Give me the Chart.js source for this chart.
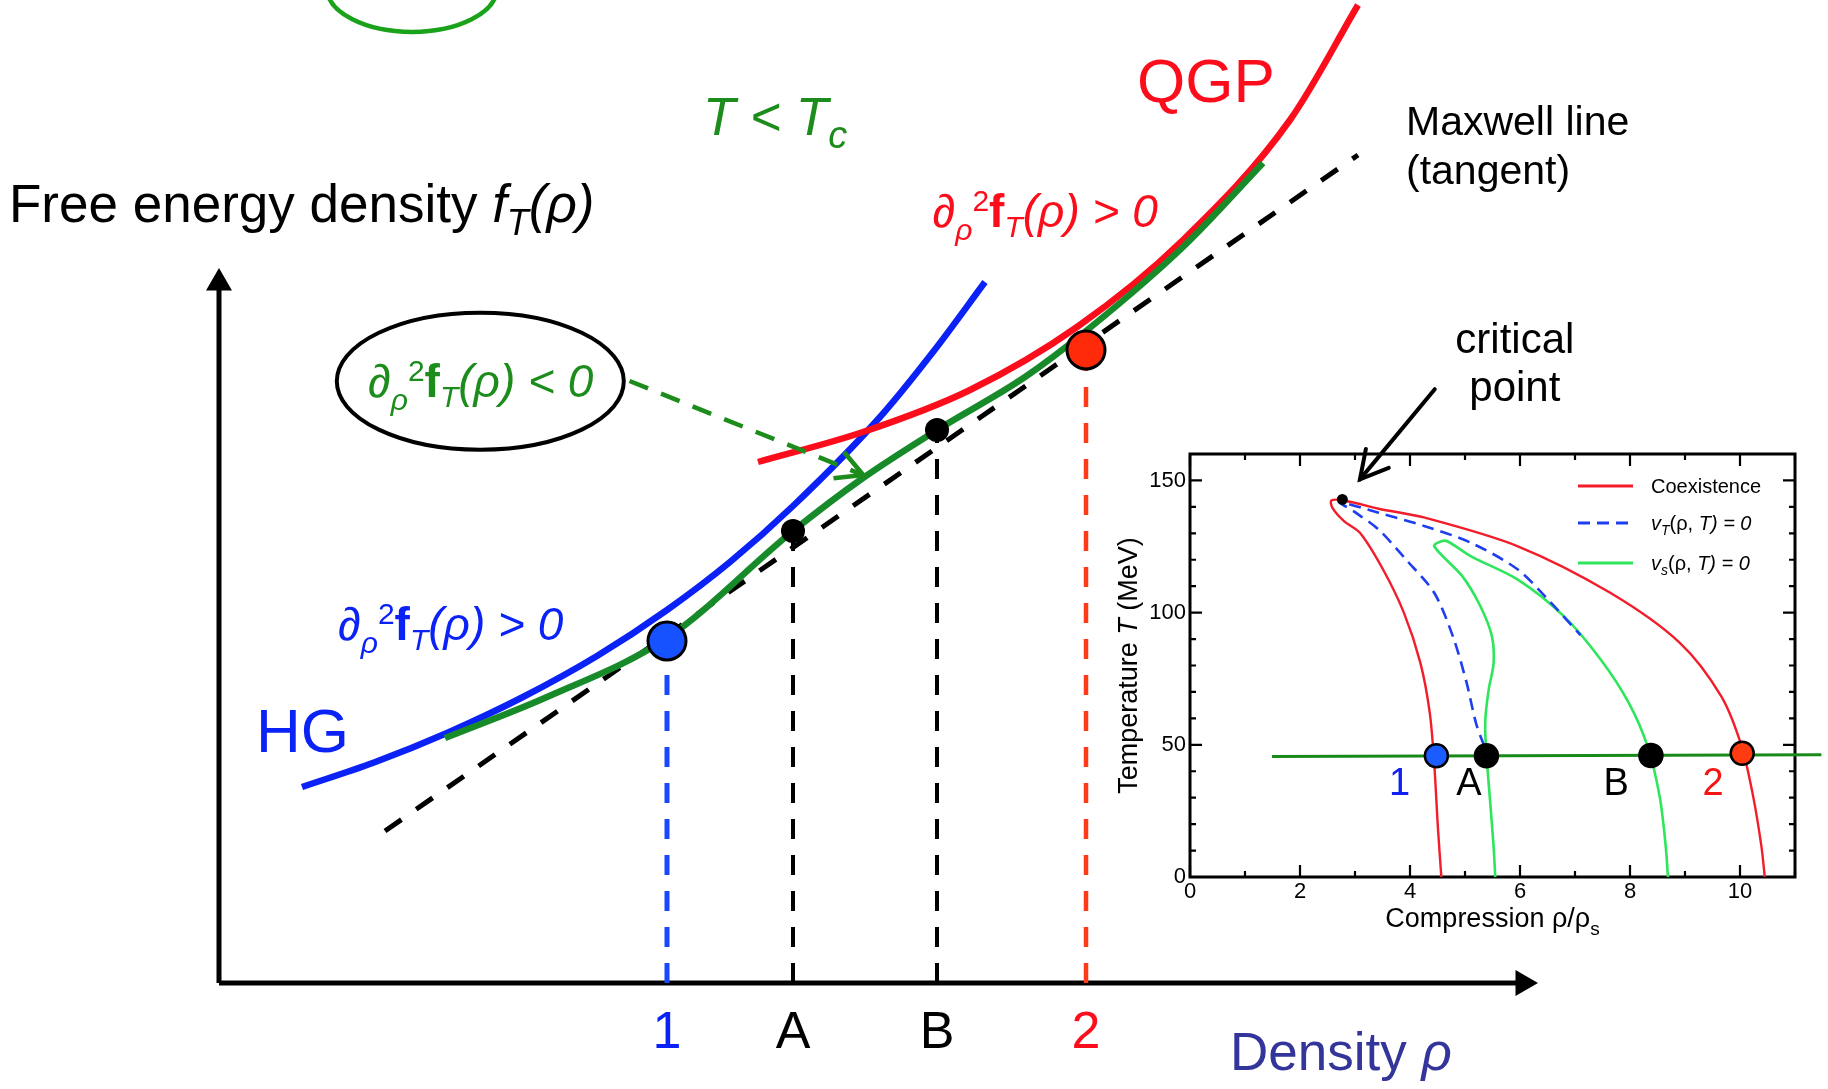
<!DOCTYPE html>
<html>
<head>
<meta charset="utf-8">
<title>Free energy density and phase coexistence</title>
<script src="https://cdn.jsdelivr.net/npm/chart.js@4.4.1/dist/chart.umd.min.js"></script>
<style>
  html, body { margin: 0; padding: 0; background: #fff; }
  #wrap { position: relative; width: 1828px; height: 1089px; overflow: hidden; background: #fff; }
  #main { position: absolute; left: 0; top: 0; }
  #inset { position: absolute; left: 1100px; top: 300px; }
</style>
</head>
<body>
<div id="wrap">
  <canvas id="main" width="1828" height="1089"></canvas>
  <canvas id="inset" width="728" height="660"></canvas>
</div>
<script>
const FONT = '"Liberation Sans", Arial, Helvetica, sans-serif';

// ---------- main sketch: free energy density vs density (arbitrary units) ----------
const axisDensity = [0, 13.04];
const axisEnergy  = [0, 7.00];

// hadron gas branch (HG)
const hgDensity = [0.83, 1.55, 2.28, 3.03, 3.78, 4.48, 5.11, 5.74, 6.61, 7.14, 7.66];
const hgEnergy  = [1.96, 2.205, 2.50, 2.855, 3.27, 3.73, 4.21, 4.77, 5.66, 6.31, 7.01];

// quark-gluon plasma branch (QGP)
const qgpDensity = [5.39, 6.44, 7.51, 8.58, 9.64, 10.71, 11.39];
const qgpEnergy  = [5.21, 5.51, 5.93, 6.56, 7.43, 8.63, 9.78];

// full free energy for T < Tc
const mixDensity = [2.26, 3.28, 4.48, 5.74, 6.44, 7.18, 8.06, 8.67, 9.64, 10.44];
const mixEnergy  = [2.45, 2.86, 3.45, 4.52, 5.05, 5.53, 6.06, 6.52, 7.36, 8.20];

// Maxwell common tangent
const maxwellDensity = [1.66, 11.39];
const maxwellEnergy  = [1.52, 8.28];

// coexistence (1, 2) and spinodal (A, B) points
const phaseLabels  = ['1', 'A', 'B', '2'];
const phaseDensity = [4.48, 5.74, 7.18, 8.67];
const phaseEnergy  = [3.42, 4.52, 5.53, 6.33];

// ---------- inset: phase diagram T vs compression ----------
const insetXTicks = [0, 2, 4, 6, 8, 10];
const insetYTicks = [0, 50, 100, 150];

const coexRho = [4.57, 4.51, 4.44, 4.36, 4.19, 3.89, 3.51, 3.09, 2.80, 2.59, 2.57, 2.80, 3.43, 4.27, 5.96, 7.64, 8.91, 9.66, 10.03, 10.24, 10.39, 10.45];
const coexT   = [0, 17.8, 43, 62, 80.9, 99.9, 116.3, 130.2, 134.6, 139.6, 142.4, 142.4, 139.3, 135.9, 125.1, 107.5, 88.5, 68.3, 49.4, 30.4, 11.5, 0];

const isoSpinRho = [5.35, 5.20, 5.03, 4.78, 4.44, 3.93, 3.43, 3.00, 2.72, 3.43, 4.27, 5.11, 5.96, 6.55, 7.10];
const isoSpinT   = [49.5, 58.2, 73.4, 91, 107.5, 120, 131.4, 138, 141.8, 137.8, 132.7, 126.4, 116.3, 104, 91.5];

const adiSpinRho = [5.55, 5.52, 5.45, 5.38, 5.37, 5.43, 5.52, 5.49, 5.28, 4.95, 4.44, 4.57, 4.68, 5.11, 5.96, 6.80, 7.47, 7.98, 8.32, 8.54, 8.65, 8.69];
const adiSpinT   = [0, 11.5, 30.4, 49.4, 59.5, 70.8, 80.9, 91, 102.4, 113.8, 125.1, 127, 127, 121.3, 112.5, 98.6, 82.2, 65.8, 49.4, 30.4, 11.5, 0];

const isothermRho = [1.49, 11.48];
const isothermT   = [45.6, 46.2];

const markerLabels = ['1', 'A', 'B', '2'];
const markerRho = [4.48, 5.39, 8.38, 10.04];
const markerT   = [45.9, 45.9, 46.0, 46.8];
const markerLabelRho = [3.81, 5.07, 7.75, 9.51];
const markerLabelT = 31;

const criticalRho = [2.77];
const criticalT   = [142.8];

// ---------- helpers ----------
const pts = (xs, ys) => xs.map((x, i) => ({ x: x, y: ys[i] }));

function fontOf(p) {
  return (p.st || 'normal') + ' ' + (p.w || 'normal') + ' ' + p.s + 'px ' + FONT;
}
// draws a run of text pieces (sub/superscripts via dy), returns width
function rich(ctx, x, y, parts, color, align) {
  ctx.save();
  ctx.fillStyle = color;
  ctx.textBaseline = 'alphabetic';
  ctx.textAlign = 'left';
  const widths = parts.map(p => { ctx.font = fontOf(p); return ctx.measureText(p.t).width; });
  const total = widths.reduce((a, b) => a + b, 0);
  let cx = align === 'center' ? x - total / 2 : x;
  parts.forEach((p, i) => {
    ctx.font = fontOf(p);
    ctx.fillText(p.t, cx, y + (p.dy || 0));
    cx += widths[i];
  });
  ctx.restore();
  return total;
}
function openHead(ctx, tipX, tipY, fromX, fromY, len, spread) {
  const a = Math.atan2(fromY - tipY, fromX - tipX);
  ctx.beginPath();
  ctx.moveTo(tipX + len * Math.cos(a + spread), tipY + len * Math.sin(a + spread));
  ctx.lineTo(tipX, tipY);
  ctx.lineTo(tipX + len * Math.cos(a - spread), tipY + len * Math.sin(a - spread));
  ctx.stroke();
}
const curvature = (sign) => [
  { t: '\u2202', s: 46, st: 'italic' },
  { t: '\u03C1', s: 30, st: 'italic', dy: 13 },
  { t: '2', s: 30, dy: -16 },
  { t: 'f', s: 46, w: 'bold' },
  { t: 'T', s: 30, st: 'italic', dy: 10 },
  { t: '(\u03C1) ' + sign + ' 0', s: 46, st: 'italic' }
];

// ---------- colours ----------
const BLUE = '#0b22f6';
const RED = '#fb0d1b';
const GREEN = '#178a2a';
const TEXT_GREEN = '#1c8c1c';

// ---------- annotations of the main sketch ----------
const mainNotes = {
  id: 'mainNotes',
  afterDatasetsDraw(chart) {
    const ctx = chart.ctx;
    const X = v => chart.scales.x.getPixelForValue(v);
    const Y = v => chart.scales.y.getPixelForValue(v);
    const sx = d => X(d) - X(0);
    const sy = d => Y(0) - Y(d);

    ctx.save();
    // ring partly above the top edge
    ctx.strokeStyle = '#1aa21a';
    ctx.lineWidth = 4.5;
    ctx.beginPath();
    ctx.ellipse(X(1.93), Y(9.95), sx(0.85), sy(0.44), 0, 0, Math.PI * 2);
    ctx.stroke();

    // ellipse around the unstable-curvature label
    ctx.strokeStyle = '#000';
    ctx.lineWidth = 4;
    ctx.beginPath();
    ctx.ellipse(X(2.613), Y(6.018), sx(1.435), sy(0.685), 0, 0, Math.PI * 2);
    ctx.stroke();

    // dashed pointer to the concave part of the curve
    const ax0 = X(4.105), ay0 = Y(6.02), ax1 = X(6.443), ay1 = Y(5.08);
    ctx.strokeStyle = TEXT_GREEN;
    ctx.lineWidth = 4.5;
    ctx.setLineDash([20, 14]);
    ctx.beginPath();
    ctx.moveTo(ax0, ay0);
    ctx.lineTo(ax1 - 4, ay1 - 1.6);
    ctx.stroke();
    ctx.setLineDash([]);
    openHead(ctx, ax1, ay1, ax0, ay0, 30, 0.49);
    ctx.restore();

    // texts
    rich(ctx, X(-2.10), Y(7.61), [
      { t: 'Free energy density ', s: 53 },
      { t: 'f', s: 53, st: 'italic' },
      { t: 'T', s: 36, st: 'italic', dy: 13 },
      { t: '(\u03C1)', s: 53, st: 'italic' }
    ], '#000');
    rich(ctx, X(4.84), Y(8.48), [
      { t: 'T < T', s: 53, st: 'italic' },
      { t: 'c', s: 38, st: 'italic', dy: 13 }
    ], TEXT_GREEN);
    rich(ctx, X(9.18), Y(8.81), [{ t: 'QGP', s: 62 }], RED);
    rich(ctx, X(11.87), Y(8.48), [{ t: 'Maxwell line', s: 41 }], '#000');
    rich(ctx, X(11.87), Y(7.99), [{ t: '(tangent)', s: 41 }], '#000');
    rich(ctx, X(7.135), Y(7.56), curvature('>'), RED);
    rich(ctx, X(1.49), Y(5.86), curvature('<'), TEXT_GREEN);
    rich(ctx, X(1.19), Y(3.43), curvature('>'), BLUE);
    rich(ctx, X(0.37), Y(2.31), [{ t: 'HG', s: 62 }], BLUE);

    const labelColors = [BLUE, '#000', '#000', RED];
    phaseLabels.forEach((lab, i) => {
      rich(ctx, X(phaseDensity[i]), Y(-0.65), [{ t: lab, s: 52 }], labelColors[i], 'center');
    });
    rich(ctx, X(10.11), Y(-0.87), [
      { t: 'Density ', s: 53 },
      { t: '\u03C1', s: 53, st: 'italic' }
    ], '#33359a');
  }
};

const dropColors = ['#1b48ff', '#000', '#000', '#ff3a16'];
const dropWidths = [5, 4, 4, 4.5];
const dropSets = phaseDensity.map((d, i) => ({
  data: pts([d, d], [0, phaseEnergy[i]]),
  borderColor: dropColors[i],
  borderWidth: dropWidths[i],
  borderDash: [20, 16],
  tension: 0,
  order: 4
}));

const curveStyle = { borderWidth: 6.5, cubicInterpolationMode: 'monotone' };

new Chart(document.getElementById('main'), {
  type: 'line',
  data: {
    datasets: [
      {
        data: pts(phaseDensity, phaseEnergy),
        showLine: false,
        pointStyle: 'circle',
        pointRadius: [19, 12, 12, 19],
        pointBackgroundColor: ['#1652ff', '#000', '#000', '#ff2a0a'],
        pointBorderColor: '#000',
        pointBorderWidth: [3, 0, 0, 3],
        order: 0
      },
      Object.assign({ data: pts(mixDensity, mixEnergy), borderColor: GREEN, order: 1 }, curveStyle),
      Object.assign({ data: pts(qgpDensity, qgpEnergy), borderColor: RED, order: 2 }, curveStyle),
      Object.assign({ data: pts(hgDensity, hgEnergy), borderColor: BLUE, order: 3 }, curveStyle),
      ...dropSets,
      {
        data: pts(maxwellDensity, maxwellEnergy),
        borderColor: '#000', borderWidth: 5, borderDash: [20, 18], tension: 0, order: 5
      },
      {
        data: pts([axisDensity[0], axisDensity[0]], axisEnergy),
        borderColor: '#000', borderWidth: 5, tension: 0,
        pointStyle: 'triangle', pointRadius: [0, 15], pointRotation: 0,
        pointBackgroundColor: '#000', pointBorderWidth: 0, order: 6
      },
      {
        data: pts(axisDensity, [axisEnergy[0], axisEnergy[0]]),
        borderColor: '#000', borderWidth: 5, tension: 0,
        pointStyle: 'triangle', pointRadius: [0, 15], pointRotation: 90,
        pointBackgroundColor: '#000', pointBorderWidth: 0, order: 6
      }
    ]
  },
  options: {
    responsive: false,
    animation: false,
    events: [],
    layout: { padding: 0, autoPadding: false },
    plugins: { legend: { display: false }, tooltip: { enabled: false }, title: { display: false } },
    scales: {
      x: { type: 'linear', min: -2.19, max: 16.09, display: false },
      y: { type: 'linear', min: -1.06, max: 9.83, display: false }
    },
    elements: {
      line: { tension: 0.4, borderCapStyle: 'butt', fill: false },
      point: { radius: 0 }
    }
  },
  plugins: [mainNotes]
});

// ---------- inset decorations: frame, inward ticks, legend, titles ----------
const INSET_RED = '#f21c2a';
const INSET_BLUE = '#1f3ef0';
const INSET_GREEN = '#2ee65c';
const INSET_ISO = '#178a1a';

const insetDecor = {
  id: 'insetDecor',
  beforeDatasetsDraw(chart) {
    const { ctx, chartArea: a } = chart;
    const xs = chart.scales.x, ys = chart.scales.y;
    ctx.save();
    ctx.strokeStyle = '#000';
    ctx.lineWidth = 2.2;
    ctx.beginPath();
    for (let v = xs.min; v <= xs.max; v += 1) {
      const p = xs.getPixelForValue(v);
      const L = v % 2 === 0 ? 12 : 6;
      ctx.moveTo(p, a.bottom); ctx.lineTo(p, a.bottom - L);
      ctx.moveTo(p, a.top); ctx.lineTo(p, a.top + L);
    }
    for (let v = ys.min; v <= ys.max; v += 10) {
      const p = ys.getPixelForValue(v);
      const L = v % 50 === 0 ? 12 : 6;
      ctx.moveTo(a.left, p); ctx.lineTo(a.left + L, p);
      ctx.moveTo(a.right, p); ctx.lineTo(a.right - L, p);
    }
    ctx.stroke();
    ctx.lineWidth = 3;
    ctx.strokeRect(a.left, a.top, a.right - a.left, a.bottom - a.top);
    ctx.restore();
  },
  afterDatasetsDraw(chart) {
    const { ctx, chartArea: a } = chart;
    const X = v => chart.scales.x.getPixelForValue(v);
    const Y = v => chart.scales.y.getPixelForValue(v);
    const ds = chart.data.datasets;

    // legend
    const rows = [
      { set: ds[3], y: a.top + 32, parts: [{ t: 'Coexistence', s: 20 }] },
      { set: ds[2], y: a.top + 69, parts: [
        { t: 'v', s: 20, st: 'italic' }, { t: 'T', s: 14, st: 'italic', dy: 5 },
        { t: '(\u03C1, ', s: 20 }, { t: 'T) = 0', s: 20, st: 'italic' }] },
      { set: ds[1], y: a.top + 109, parts: [
        { t: 'v', s: 20, st: 'italic' }, { t: 's', s: 14, st: 'italic', dy: 5 },
        { t: '(\u03C1, ', s: 20 }, { t: 'T) = 0', s: 20, st: 'italic' }] }
    ];
    rows.forEach(r => {
      ctx.save();
      ctx.strokeStyle = r.set.borderColor;
      ctx.lineWidth = 3;
      ctx.setLineDash(r.set.borderDash || []);
      ctx.beginPath();
      ctx.moveTo(a.right - 217, r.y);
      ctx.lineTo(a.right - 162, r.y);
      ctx.stroke();
      ctx.restore();
      rich(ctx, a.right - 144, r.y + 7, r.parts, '#000');
    });

    // axis titles
    rich(ctx, (a.left + a.right) / 2, a.bottom + 50, [
      { t: 'Compression \u03C1/\u03C1', s: 27 }, { t: 's', s: 19, dy: 8 }
    ], '#000', 'center');
    ctx.save();
    ctx.translate(a.left - 53, (a.top + a.bottom) / 2);
    ctx.rotate(-Math.PI / 2);
    rich(ctx, 0, 0, [
      { t: 'Temperature ', s: 27 }, { t: 'T', s: 27, st: 'italic' }, { t: ' (MeV)', s: 27 }
    ], '#000', 'center');
    ctx.restore();

    // point labels
    const labColors = ['#1020f0', '#000', '#000', '#f51414'];
    markerLabels.forEach((lab, i) => {
      rich(ctx, X(markerLabelRho[i]), Y(markerLabelT), [{ t: lab, s: 38 }], labColors[i], 'center');
    });

    // critical point pointer
    rich(ctx, X(5.906), Y(198.1), [{ t: 'critical', s: 42 }], '#000', 'center');
    rich(ctx, X(5.906), Y(179.9), [{ t: 'point', s: 42 }], '#000', 'center');
    const sx0 = X(4.45), sy0 = Y(184.5), tx = X(3.09), ty = Y(150.4);
    ctx.save();
    ctx.strokeStyle = '#000';
    ctx.lineWidth = 4;
    ctx.lineCap = 'round';
    ctx.beginPath();
    ctx.moveTo(sx0, sy0);
    ctx.lineTo(tx, ty);
    ctx.stroke();
    openHead(ctx, tx, ty, sx0, sy0, 31, 0.5);
    ctx.restore();
  }
};

new Chart(document.getElementById('inset'), {
  type: 'line',
  data: {
    datasets: [
      {
        data: pts(markerRho, markerT),
        showLine: false,
        pointStyle: 'circle',
        pointRadius: 11.5,
        pointBackgroundColor: ['#1a5cff', '#000', '#000', '#ff3b12'],
        pointBorderColor: '#000',
        pointBorderWidth: 2.5,
        clip: false,
        order: 0
      },
      { data: pts(adiSpinRho, adiSpinT), borderColor: INSET_GREEN, borderWidth: 2.6, order: 3 },
      { data: pts(isoSpinRho, isoSpinT), borderColor: INSET_BLUE, borderWidth: 2.6, borderDash: [12, 7], order: 2 },
      { data: pts(coexRho, coexT), borderColor: INSET_RED, borderWidth: 2.4, order: 4 },
      { data: pts(isothermRho, isothermT), borderColor: INSET_ISO, borderWidth: 3, tension: 0, clip: false, order: 1 },
      {
        data: pts(criticalRho, criticalT),
        showLine: false, pointRadius: 5.5, pointBackgroundColor: '#000', pointBorderWidth: 0, order: 0
      }
    ]
  },
  options: {
    responsive: false,
    animation: false,
    events: [],
    layout: { padding: { left: 0, top: 154, right: 33, bottom: 0 }, autoPadding: false },
    plugins: { legend: { display: false }, tooltip: { enabled: false } },
    scales: {
      x: {
        type: 'linear', min: 0, max: 11,
        grid: { display: false, drawTicks: false },
        border: { display: false },
        ticks: { color: '#000', font: { family: FONT, size: 22 }, padding: 2, maxRotation: 0, autoSkip: false },
        afterBuildTicks: s => { s.ticks = insetXTicks.map(v => ({ value: v })); },
        afterFit: s => { s.height = 83; }
      },
      y: {
        type: 'linear', min: 0, max: 160,
        grid: { display: false, drawTicks: false },
        border: { display: false },
        ticks: { color: '#000', font: { family: FONT, size: 22 }, padding: 4, autoSkip: false },
        afterBuildTicks: s => { s.ticks = insetYTicks.map(v => ({ value: v })); },
        afterFit: s => { s.width = 90; }
      }
    },
    elements: {
      line: { tension: 0.3, fill: false, borderCapStyle: 'butt' },
      point: { radius: 0 }
    }
  },
  plugins: [insetDecor]
});
</script>
</body>
</html>
